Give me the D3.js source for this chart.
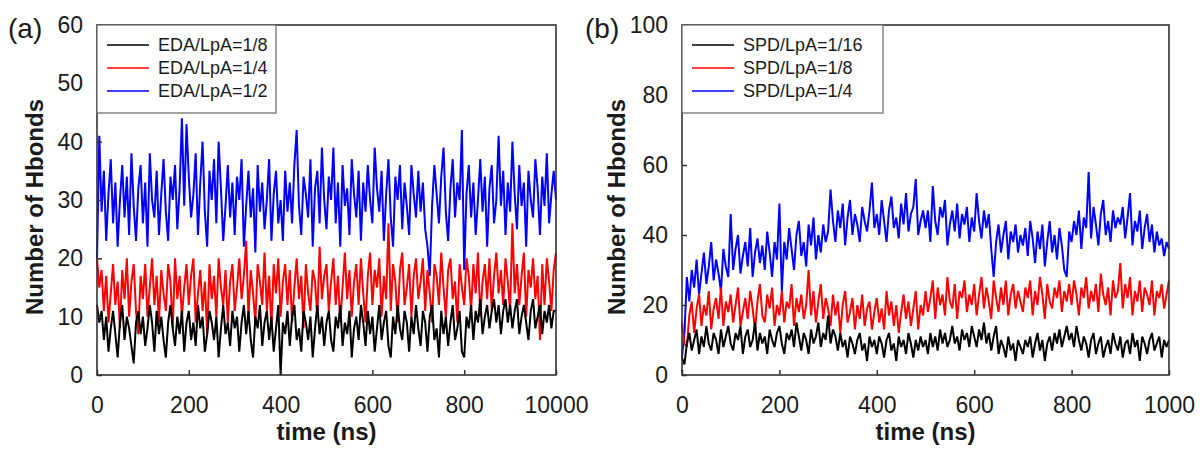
<!DOCTYPE html>
<html>
<head>
<meta charset="utf-8">
<script src="https://cdn.jsdelivr.net/npm/d3@7"></script>
<style>
  body { margin: 0; background: #fff; }
  svg text { font-family: "Liberation Sans", Arial, sans-serif; fill: #1a1a1a; }
</style>
</head>
<body>
<div id="chart"></div>
<script>
// sample times (ns), every 5 ns
const times = d3.range(0, 1001, 5);

// panel (a): EDA
const edaEighth = [
  12,9,11,6,10,4,8,11,7,3,9,12,6,10,8,5,2,9,11,7,
  10,5,8,12,9,4,11,7,10,6,3,9,12,8,5,10,7,11,4,9,
  11,6,9,5,12,8,10,4,7,11,9,6,10,3,8,12,7,9,5,11,
  8,10,4,9,12,7,11,6,3,10,8,12,5,9,11,6,10,4,8,12,
  0,9,7,11,5,10,12,6,8,4,11,9,6,10,3,8,12,7,10,5,
  9,11,6,4,10,8,12,5,9,7,11,3,8,10,6,12,9,5,11,7,
  10,4,8,12,6,9,11,5,3,10,7,12,8,6,11,9,4,10,7,12,
  8,5,11,9,4,10,12,6,8,3,11,7,10,5,9,12,6,8,11,4,
  3,10,8,12,6,11,9,13,7,10,12,8,11,13,9,12,7,11,13,9,
  12,8,11,13,7,10,12,9,6,11,13,8,10,12,7,11,9,12,8,11,
  11
];
const edaQuarter = [
  20,15,18,11,17,9,14,19,12,16,8,18,13,20,10,16,19,11,7,17,
  13,19,10,15,20,12,17,9,18,14,11,19,16,8,20,13,17,10,15,19,
  12,17,20,9,14,18,11,16,7,19,13,17,10,20,15,12,18,9,16,19,
  11,15,20,13,17,23,10,18,14,9,19,16,12,21,11,17,8,19,14,20,
  10,16,19,12,18,9,15,20,13,17,8,19,14,11,18,16,10,22,13,17,
  19,11,16,20,12,17,9,15,21,13,18,10,16,19,12,20,14,9,17,21,
  12,18,15,20,10,17,13,26,11,19,16,9,18,21,12,15,19,10,17,20,
  13,16,20,11,18,14,9,19,17,12,21,15,10,18,20,13,16,9,19,15,
  12,20,17,11,19,14,21,10,16,19,13,20,11,17,21,14,18,12,20,16,
  11,26,14,19,12,17,21,10,18,15,20,13,17,6,19,12,20,16,11,18,
  21
];
const edaHalf = [
  20,41,28,35,23,31,37,26,33,22,30,36,27,34,24,38,29,23,32,36,
  26,33,22,38,30,27,35,24,31,37,28,23,34,30,36,25,32,44,29,43,
  34,27,31,38,24,33,40,28,22,35,30,37,26,40,32,23,29,36,27,33,
  24,34,30,37,22,29,35,27,32,21,36,28,33,25,30,37,23,31,35,26,
  30,23,35,28,33,26,36,42,29,24,34,31,27,37,22,32,35,26,39,30,
  25,34,30,39,26,33,22,36,29,32,24,37,31,27,35,23,33,28,36,30,
  26,39,32,28,35,23,31,37,27,22,34,30,36,25,33,29,24,36,31,27,
  35,28,33,25,22,17,29,36,31,26,34,39,28,23,32,37,27,33,30,42,
  18,31,36,27,33,24,30,37,28,34,22,32,36,26,30,41,29,35,24,33,
  28,40,31,25,36,29,33,22,35,30,27,37,32,24,34,29,38,26,31,35,
  30
];

// panel (b): SPD
const spdSixteenth = [
  5,3,9,12,7,10,13,6,11,8,14,9,7,12,10,6,13,8,11,14,
  9,7,12,10,14,6,11,13,8,10,15,7,12,9,11,6,13,10,8,12,
  14,9,6,12,10,13,8,15,11,7,12,10,6,13,9,11,15,8,12,10,
  17,9,13,11,7,12,8,10,5,11,9,6,10,12,7,9,4,11,8,10,
  6,11,9,5,10,12,7,9,4,11,8,10,6,12,9,5,10,7,11,8,
  10,6,12,8,11,7,13,9,12,8,10,14,9,11,7,13,10,12,8,14,
  11,8,13,10,15,9,12,7,11,14,6,10,8,5,11,7,9,4,10,8,
  6,10,8,11,5,9,12,7,10,4,9,11,7,12,9,13,8,11,14,10,
  12,8,14,10,7,11,9,5,10,12,6,9,11,5,8,10,6,12,9,7,
  11,5,9,10,6,12,8,10,4,11,9,6,10,12,7,9,11,5,10,8,
  10
];
const spdEighth = [
  15,9,8,17,21,12,19,23,14,20,17,24,13,19,22,16,25,14,21,18,
  23,15,20,25,14,18,22,16,24,19,13,21,26,17,15,23,19,25,14,20,
  17,24,15,21,19,26,14,22,18,23,16,20,30,17,24,15,21,26,16,22,
  19,14,23,17,21,12,20,24,15,18,22,13,20,16,23,14,19,21,13,18,
  22,15,19,13,24,17,21,14,20,12,18,23,16,21,14,19,24,13,20,17,
  24,18,22,27,16,25,20,23,17,28,21,19,26,16,24,22,27,18,23,20,
  26,17,23,28,19,25,21,16,27,22,18,25,20,27,17,23,26,19,24,21,
  18,25,22,27,17,24,20,28,23,16,26,21,19,25,22,27,18,24,21,26,
  20,27,23,17,25,22,28,19,24,21,26,18,29,23,20,25,17,27,22,24,
  32,19,26,22,28,17,24,21,27,18,25,23,20,27,17,24,22,26,19,23,
  27
];
const spdQuarter = [
  5,12,28,21,30,25,33,23,29,35,26,31,38,27,33,29,24,36,31,28,
  46,30,36,40,29,34,38,31,42,28,35,39,32,37,30,41,35,28,38,33,
  49,24,38,33,42,36,30,40,44,34,38,31,43,37,45,33,40,35,43,38,
  41,53,44,38,47,42,49,37,45,50,40,46,43,38,48,44,41,47,55,42,
  46,40,50,44,38,47,51,42,45,39,49,43,52,41,46,48,56,40,44,47,
  42,47,38,54,44,40,48,45,50,37,43,47,41,49,39,46,43,48,38,45,
  41,52,44,39,47,42,46,36,28,38,43,35,40,44,33,41,38,43,35,40,
  37,42,34,44,39,32,41,36,43,31,38,44,35,40,33,42,37,30,28,41,
  38,44,40,47,36,45,42,58,39,48,43,37,46,50,40,44,38,47,42,45,
  43,48,39,45,52,37,44,41,47,36,42,46,38,43,35,41,37,39,34,38,
  36
];

const xTicks = [0, 200, 400, 600, 800, 1000];
const xLabelsA = ['0', '200', '400', '600', '800', '10000'];
const xLabelsB = ['0', '200', '400', '600', '800', '1000'];
const yTicksA = [0, 10, 20, 30, 40, 50, 60];
const yTicksB = [0, 20, 40, 60, 80, 100];

const seriesColors = ['#000000', '#ff0000', '#0000ff'];

const panels = [
  {
    tag: '(a)', tagX: 8,
    left: 97, right: 556, top: 25, bottom: 375,
    yMax: 60, yTicks: yTicksA, xLabels: xLabelsA,
    names: ['EDA/LpA=1/8', 'EDA/LpA=1/4', 'EDA/LpA=1/2'],
    values: [edaEighth, edaQuarter, edaHalf],
    legendW: 179, yTitleX: 35
  },
  {
    tag: '(b)', tagX: 585,
    left: 682, right: 1169, top: 25, bottom: 375,
    yMax: 100, yTicks: yTicksB, xLabels: xLabelsB,
    names: ['SPD/LpA=1/16', 'SPD/LpA=1/8', 'SPD/LpA=1/4'],
    values: [spdSixteenth, spdEighth, spdQuarter],
    legendW: 201, yTitleX: 617
  }
];

const svg = d3.select('#chart')
  .append('svg')
  .attr('width', 1200)
  .attr('height', 450);

panels.forEach(p => {
  const x = d3.scaleLinear().domain([0, 1000]).range([p.left, p.right]);
  const y = d3.scaleLinear().domain([0, p.yMax]).range([p.bottom, p.top]);

  // data, blue under red under black
  const line = d3.line()
    .x((d, i) => x(times[i]))
    .y(d => y(d));

  [2, 1, 0].forEach(k => {
    svg.append('path')
      .datum(p.values[k])
      .attr('fill', 'none')
      .attr('stroke', seriesColors[k])
      .attr('stroke-width', 2)
      .attr('stroke-linejoin', 'bevel')
      .attr('d', line);
  });

  // axes with inward ticks
  const xAxis = svg.append('g')
    .attr('transform', `translate(0,${p.bottom})`)
    .call(d3.axisBottom(x)
      .tickValues(xTicks)
      .tickSize(-5)
      .tickPadding(22)
      .tickFormat((d, i) => p.xLabels[i]));

  const yAxis = svg.append('g')
    .attr('transform', `translate(${p.left},0)`)
    .call(d3.axisLeft(y)
      .tickValues(p.yTicks)
      .tickSize(-5)
      .tickPadding(14)
      .tickFormat(d3.format('d')));

  [xAxis, yAxis].forEach(a => {
    a.select('.domain').remove();
    a.selectAll('line').attr('stroke', '#333').attr('stroke-width', 1.5);
    a.selectAll('text')
      .attr('font-family', '"Liberation Sans", Arial, sans-serif')
      .attr('font-size', 23)
      .attr('fill', '#222');
  });

  // frame
  svg.append('rect')
    .attr('x', p.left)
    .attr('y', p.top)
    .attr('width', p.right - p.left)
    .attr('height', p.bottom - p.top)
    .attr('fill', 'none')
    .attr('stroke', '#333')
    .attr('stroke-width', 1.6);

  // legend
  const lg = svg.append('g').attr('transform', `translate(${p.left},${p.top})`);
  lg.append('rect')
    .attr('width', p.legendW)
    .attr('height', 88)
    .attr('fill', '#fff')
    .attr('stroke', '#666')
    .attr('stroke-width', 1.2);
  p.names.forEach((name, i) => {
    const ly = 20 + i * 23;
    lg.append('line')
      .attr('x1', 10).attr('x2', 52)
      .attr('y1', ly).attr('y2', ly)
      .attr('stroke', seriesColors[i])
      .attr('stroke-width', 1.6);
    lg.append('text')
      .attr('x', 61)
      .attr('y', ly + 6)
      .attr('font-size', 18)
      .text(name);
  });

  // titles
  svg.append('text')
    .attr('x', (p.left + p.right) / 2)
    .attr('y', 440)
    .attr('text-anchor', 'middle')
    .attr('font-size', 24)
    .attr('font-weight', 'bold')
    .text('time (ns)');

  svg.append('text')
    .attr('transform', `translate(${p.yTitleX + 8},${(p.top + p.bottom) / 2 + 7}) rotate(-90)`)
    .attr('text-anchor', 'middle')
    .attr('font-size', 24)
    .attr('font-weight', 'bold')
    .text('Number of Hbonds');

  svg.append('text')
    .attr('x', p.tagX)
    .attr('y', 38)
    .attr('font-size', 28)
    .text(p.tag);
});
</script>
</body>
</html>
